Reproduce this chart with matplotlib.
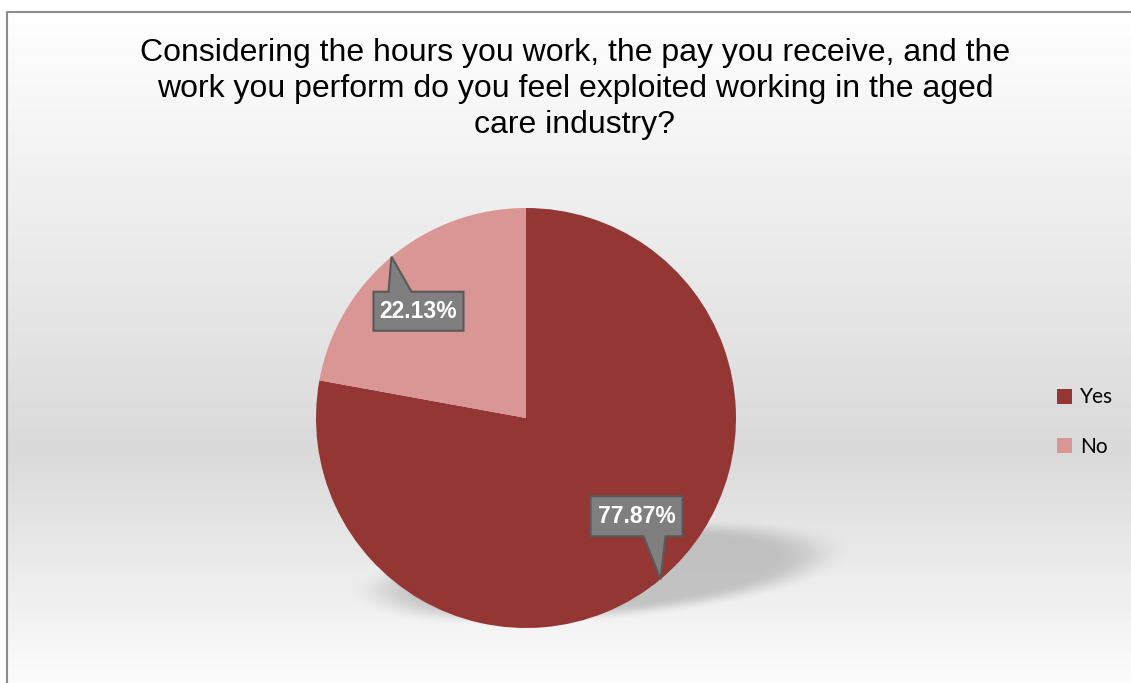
import numpy as np
import matplotlib
matplotlib.use('Agg')
import matplotlib.pyplot as plt
from matplotlib.patches import Polygon

title = ('Considering the hours you work, the pay you receive, and the\n'
         'work you perform do you feel exploited working in the aged\n'
         'care industry?')
categories = ['Yes', 'No']
shares = [77.87, 22.13]
labels = ['77.87%', '22.13%']
colors = ['#943634', '#d99694']

W, H = 1131, 683
fig = plt.figure(figsize=(W / 100, H / 100), dpi=100)

# background: vertical white-grey-white gradient plus soft shadow under the pie
bg = fig.add_axes([0, 0, 1, 1])
yy, xx = np.mgrid[0:H, 0:W].astype(float)
t = np.where(yy < 450, (yy - 12) / (450 - 12), (700 - yy) / (700 - 450))
t = np.clip(t, 0, 1)
grey = 255 - t * 37
# shadow ellipse
cx, cy, a, b, rot = 600, 572, 228, 44, np.deg2rad(-5)
dx, dy = xx - cx, yy - cy
u = dx * np.cos(rot) + dy * np.sin(rot)
v = -dx * np.sin(rot) + dy * np.cos(rot)
r = np.sqrt((u / a) ** 2 + (v / b) ** 2)
sh = np.clip((1.12 - r) / 0.35, 0, 1)
sh = sh * sh * (3 - 2 * sh)
grey = grey * (1 - sh * 0.75) + 180 * sh * 0.75
grey[yy < 12] = 255
grey[xx < 7] = 255
img = np.dstack([grey, grey, grey]) / 255
bg.imshow(img, extent=(0, W, H, 0), aspect='auto', interpolation='bilinear')
bg.plot([7, 7, W], [H + 5, 12, 12], color='#8c8c8c', lw=1.5)
bg.set_xlim(0, W)
bg.set_ylim(H, 0)
bg.axis('off')

bg.text(575, 89, title, ha='center', va='center', fontsize=23,
        family=['Liberation Sans', 'DejaVu Sans'], linespacing=1.25, color='black')

# pie: centre (526, 418) px, radius 210 px
R = 210
ax = fig.add_axes([(526 - R) / W, (H - 418 - R) / H, 2 * R / W, 2 * R / H])
wedges, _ = ax.pie(shares, colors=colors, startangle=90, counterclock=False,
                   radius=1, wedgeprops=dict(linewidth=0))
ax.set_xlim(-1, 1)
ax.set_ylim(-1, 1)
ax.set_aspect('equal')
ax.axis('off')

# callout boxes (pixel offsets from the tip: box x0,x1,y0,y1 and pointer base x0,x1; y down)
callouts = {
    'Yes': dict(box=(-70, 22, -83, -43), base=(-17, 5)),
    'No': dict(box=(-18, 72, 35, 74), base=(-3, 20)),
}
for w, cat, lab in zip(wedges, categories, labels):
    mid = np.deg2rad((w.theta1 + w.theta2) / 2)
    tx, ty = np.cos(mid), np.sin(mid)
    c = callouts[cat]
    x0, x1, y0, y1 = [v / R for v in c['box']]
    b0, b1 = [v / R for v in c['base']]
    X = lambda d: tx + d
    Y = lambda d: ty - d
    if y0 > 0:  # box below tip, pointer on top edge
        pts = [(X(x0), Y(y0)), (X(b0), Y(y0)), (tx, ty), (X(b1), Y(y0)),
               (X(x1), Y(y0)), (X(x1), Y(y1)), (X(x0), Y(y1))]
    else:  # box above tip, pointer on bottom edge
        pts = [(X(x0), Y(y0)), (X(x1), Y(y0)), (X(x1), Y(y1)), (X(b1), Y(y1)),
               (tx, ty), (X(b0), Y(y1)), (X(x0), Y(y1))]
    ax.add_patch(Polygon(pts, closed=True, facecolor='#7f7f7f', edgecolor='#595959',
                         lw=1.5, zorder=5, clip_on=False))
    ax.text(X((x0 + x1) / 2), Y((y0 + y1) / 2), lab, ha='center', va='center',
            color='white', fontsize=16.5, fontweight='bold', zorder=6,
            family=['Liberation Sans', 'DejaVu Sans'])

leg = fig.legend(wedges, categories, loc='upper left', bbox_to_anchor=(1047 / W, 1 - 377 / H),
                 frameon=False, handlelength=0.72, handleheight=0.72,
                 handletextpad=0.35, labelspacing=1.4, borderpad=0,
                 prop=dict(family=['Lato', 'DejaVu Sans'], size=15))

fig.savefig('out.png', dpi=100)
